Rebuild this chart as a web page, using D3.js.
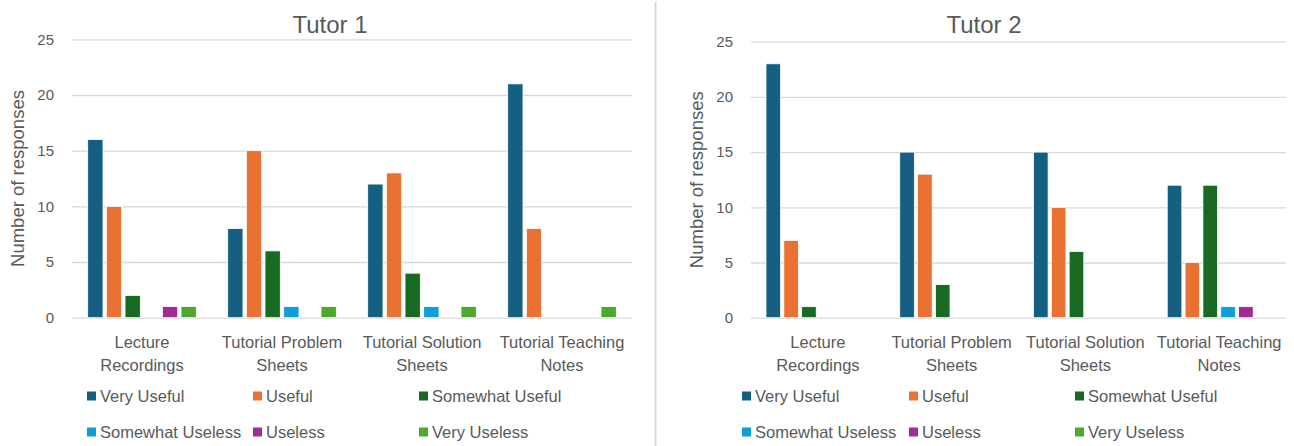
<!DOCTYPE html>
<html>
<head>
<meta charset="utf-8">
<script src="https://cdn.jsdelivr.net/npm/d3@7"></script>
<style>
  html, body { margin: 0; padding: 0; background: #fff; }
  svg { display: block; font-family: "Liberation Sans", Arial, sans-serif; }
</style>
</head>
<body>
<svg id="chart" width="1294" height="446"></svg>
<script>
// Resource categories (x axis)
const categories = ["Lecture Recordings", "Tutorial Problem Sheets", "Tutorial Solution Sheets", "Tutorial Teaching Notes"];
// Response options (series)
const seriesNames = ["Very Useful", "Useful", "Somewhat Useful", "Somewhat Useless", "Useless", "Very Useless"];
const seriesColors = ["#156082", "#E97132", "#196B24", "#0F9ED5", "#A02B93", "#4EA72E"];
const yTicks = [0, 5, 10, 15, 20, 25];

// Tutor 1 responses, one array per option, in category order
const t1VeryUseful      = [16, 8, 12, 21];
const t1Useful          = [10, 15, 13, 8];
const t1SomewhatUseful  = [2, 6, 4, 0];
const t1SomewhatUseless = [0, 1, 1, 0];
const t1Useless         = [1, 0, 0, 0];
const t1VeryUseless     = [1, 1, 1, 1];

// Tutor 2 responses
const t2VeryUseful      = [23, 15, 15, 12];
const t2Useful          = [7, 13, 10, 5];
const t2SomewhatUseful  = [1, 3, 6, 12];
const t2SomewhatUseless = [0, 0, 0, 1];
const t2Useless         = [0, 0, 0, 1];
const t2VeryUseless     = [0, 0, 0, 0];

const tutor1Series = [t1VeryUseful, t1Useful, t1SomewhatUseful, t1SomewhatUseless, t1Useless, t1VeryUseless];
const tutor2Series = [t2VeryUseful, t2Useful, t2SomewhatUseful, t2SomewhatUseless, t2Useless, t2VeryUseless];

const svg = d3.select("#chart");
const textColor = "#595959";
const gridColor = "#d9d9d9";

// Divider between the two panels
svg.append("line")
  .attr("x1", 655.5).attr("x2", 655.5).attr("y1", 2).attr("y2", 446)
  .attr("stroke", gridColor).attr("stroke-width", 2);

function drawPanel(opts, seriesValues) {
  const g = svg.append("g");

  const x = d3.scaleBand().domain(categories)
    .range([opts.left, opts.right]).paddingInner(0.2).paddingOuter(0.1);
  const xs = d3.scaleBand().domain(seriesNames)
    .range([0, x.bandwidth()]).paddingInner(0.18).paddingOuter(0.09);
  const y = d3.scaleLinear().domain([0, 25]).range([opts.bottom, opts.top]);

  // Title
  g.append("text")
    .attr("x", opts.titleX).attr("y", 33)
    .attr("text-anchor", "middle")
    .attr("font-size", 24).attr("fill", textColor)
    .text(opts.title);

  // Y axis with gridlines
  const yAxis = d3.axisLeft(y).tickValues(yTicks)
    .tickSize(-(opts.right - opts.left)).tickPadding(18)
    .tickFormat(d3.format("d"));
  const ya = g.append("g").attr("transform", `translate(${opts.left},0)`).call(yAxis);
  ya.select(".domain").remove();
  ya.selectAll(".tick line").attr("stroke", gridColor).attr("stroke-width", 1.3);
  ya.selectAll(".tick text").attr("fill", textColor).attr("font-size", 15)
    .attr("font-family", "Liberation Sans, Arial, sans-serif");

  // Y axis title
  g.append("text")
    .attr("transform", `translate(${opts.yTitleX},${(opts.top + opts.bottom) / 2}) rotate(-90)`)
    .attr("text-anchor", "middle").attr("dominant-baseline", "central")
    .attr("font-size", 18.5).attr("fill", textColor)
    .text("Number of responses");

  // Bars
  seriesNames.forEach((name, si) => {
    g.append("g").selectAll("rect")
      .data(seriesValues[si].map((v, ci) => ({ v, c: categories[ci] })).filter(d => d.v > 0))
      .join("rect")
      .attr("x", d => x(d.c) + xs(name))
      .attr("width", xs.bandwidth())
      .attr("y", d => y(d.v))
      .attr("height", d => y(0) - y(d.v))
      .attr("fill", seriesColors[si])
      .attr("stroke", "#fff").attr("stroke-width", 0.8);
  });

  // Category labels (two lines each)
  categories.forEach(c => {
    const idx = c.lastIndexOf(" ");
    const lines = [c.slice(0, idx), c.slice(idx + 1)];
    const t = g.append("text")
      .attr("text-anchor", "middle").attr("font-size", 16.5).attr("fill", textColor);
    lines.forEach((ln, i) => {
      t.append("tspan").attr("x", x(c) + x.bandwidth() / 2).attr("y", 348 + i * 23).text(ln);
    });
  });

  // Legend: three columns, two rows
  seriesNames.forEach((name, i) => {
    const col = i % 3, row = Math.floor(i / 3);
    const lx = opts.legendCols[col];
    const ly = 396 + row * 36;
    g.append("rect").attr("x", lx).attr("y", ly - 4.5).attr("width", 9).attr("height", 9)
      .attr("fill", seriesColors[i]);
    g.append("text").attr("x", lx + 13).attr("y", ly).attr("dominant-baseline", "central")
      .attr("font-size", 16.5).attr("fill", textColor).text(name);
  });
}

drawPanel({ title: "Tutor 1", titleX: 330, left: 72, right: 632, top: 39.3, bottom: 317.7,
            yTitleX: 17, legendCols: [87, 253, 419] }, tutor1Series);
drawPanel({ title: "Tutor 2", titleX: 984, left: 751, right: 1286, top: 41.7, bottom: 317.7,
            yTitleX: 696, legendCols: [742, 909, 1075] }, tutor2Series);
</script>
</body>
</html>
